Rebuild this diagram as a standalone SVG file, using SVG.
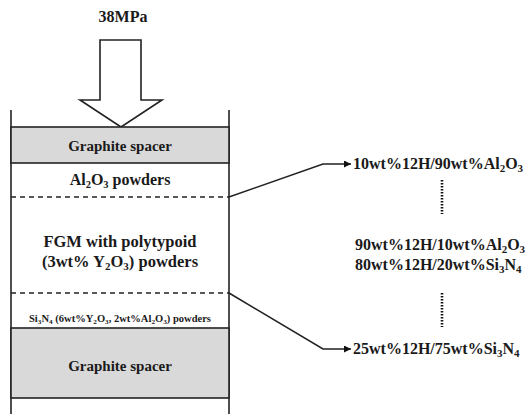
<svg xmlns="http://www.w3.org/2000/svg" width="528" height="414" viewBox="0 0 528 414">
<defs>
<style>
.t{font-family:"Liberation Serif","Times New Roman",serif;font-weight:bold;fill:#1a1a1a}
.ln{stroke:#222;stroke-width:1.6;fill:none}
.ds{stroke:#222;stroke-width:1.4;stroke-dasharray:5,4;fill:none}
.dt{stroke:#111;stroke-width:2.6;stroke-dasharray:1.5,1.5;fill:none}
.sp{fill:#d9d9d9;stroke:#222;stroke-width:1.6}
</style>
<marker id="ah" viewBox="0 0 10 10" refX="10" refY="5" markerWidth="7" markerHeight="7" markerUnits="userSpaceOnUse" orient="auto">
<path d="M0,0 L10,5 L0,10 Z" fill="#111"/>
</marker>
</defs>
<rect width="528" height="414" fill="#fff"/>
<g id="load">
<text class="t" x="123" y="22" font-size="16" text-anchor="middle">38MPa</text>
<polygon class="ln" points="100,40 141,40 141,100 162,100 121,127 80,100 100,100" style="fill:#fff"/>
</g>
<g id="die">
<line class="ln" x1="11" y1="110" x2="11" y2="414"/>
<line class="ln" x1="229" y1="110" x2="229" y2="414"/>
</g>
<g id="top-spacer">
<rect class="sp" x="11" y="127" width="218" height="36"/>
<text class="t" x="120" y="151" font-size="15" text-anchor="middle">Graphite spacer</text>
</g>
<g id="al2o3-layer">
<text class="t" x="120" y="185" font-size="16" text-anchor="middle">Al<tspan font-size="10.5" dy="3">2</tspan><tspan dy="-3">O</tspan><tspan font-size="10.5" dy="3">3</tspan><tspan dy="-3"> powders</tspan></text>
<line class="ds" x1="11" y1="197" x2="229" y2="197"/>
</g>
<g id="fgm-layer">
<text class="t" x="120" y="247" font-size="16.5" text-anchor="middle">FGM with polytypoid</text>
<text class="t" x="120" y="267" font-size="16.5" text-anchor="middle">(3wt% Y<tspan font-size="11" dy="3">2</tspan><tspan dy="-3">O</tspan><tspan font-size="11" dy="3">3</tspan><tspan dy="-3">) powders</tspan></text>
<line class="ds" x1="11" y1="293" x2="229" y2="293"/>
</g>
<g id="si3n4-layer">
<text class="t" x="120" y="322" font-size="9.5" text-anchor="middle" textLength="182" lengthAdjust="spacingAndGlyphs">Si<tspan font-size="6.5" dy="2">3</tspan><tspan dy="-2">N</tspan><tspan font-size="6.5" dy="2">4</tspan><tspan dy="-2"> (6wt%Y</tspan><tspan font-size="6.5" dy="2">2</tspan><tspan dy="-2">O</tspan><tspan font-size="6.5" dy="2">3</tspan><tspan dy="-2">, 2wt%Al</tspan><tspan font-size="6.5" dy="2">2</tspan><tspan dy="-2">O</tspan><tspan font-size="6.5" dy="2">3</tspan><tspan dy="-2">) powders</tspan></text>
</g>
<g id="bottom-spacer">
<rect class="sp" x="11" y="328" width="218" height="70"/>
<text class="t" x="120" y="371" font-size="15" text-anchor="middle">Graphite spacer</text>
</g>
<g id="compositions">
<text class="t" x="353" y="169" font-size="16">10wt%12H/90wt%Al<tspan font-size="11" dy="3">2</tspan><tspan dy="-3">O</tspan><tspan font-size="11" dy="3">3</tspan></text>
<text class="t" x="355" y="250" font-size="16">90wt%12H/10wt%Al<tspan font-size="11" dy="3">2</tspan><tspan dy="-3">O</tspan><tspan font-size="11" dy="3">3</tspan></text>
<text class="t" x="355" y="270" font-size="16">80wt%12H/20wt%Si<tspan font-size="11" dy="3">3</tspan><tspan dy="-3">N</tspan><tspan font-size="11" dy="3">4</tspan></text>
<text class="t" x="353" y="354" font-size="16">25wt%12H/75wt%Si<tspan font-size="11" dy="3">3</tspan><tspan dy="-3">N</tspan><tspan font-size="11" dy="3">4</tspan></text>
<line class="dt" x1="442" y1="180" x2="442" y2="214"/>
<line class="dt" x1="442" y1="293" x2="442" y2="327"/>
</g>
<g id="connectors">
<polyline class="ln" points="229,197 323,164 351,164" marker-end="url(#ah)"/>
<polyline class="ln" points="229,293 323,349 351,349" marker-end="url(#ah)"/>
</g>
</svg>
